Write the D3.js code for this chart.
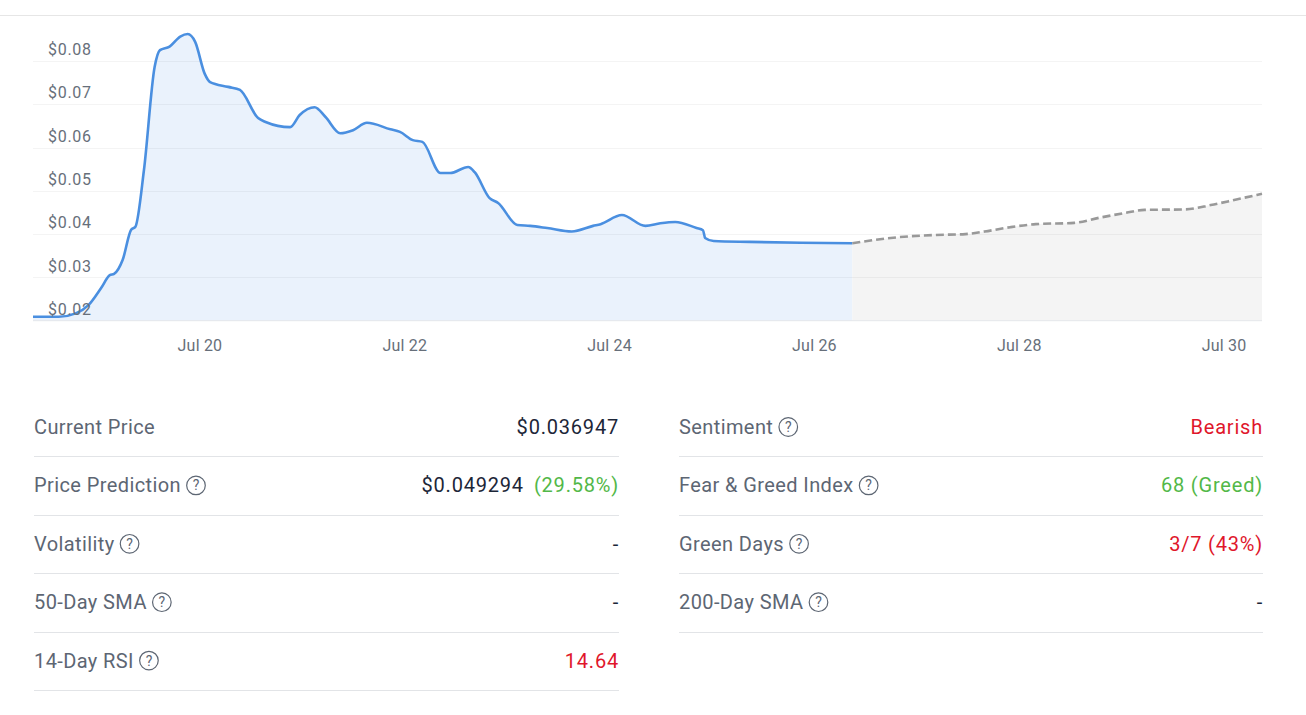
<!DOCTYPE html>
<html>
<head>
<meta charset="utf-8">
<script src="https://cdn.jsdelivr.net/npm/d3@7"></script>
<style>
  html, body { margin: 0; padding: 0; background: #fff; }
  svg { display: block; font-family: Roboto, "Noto Sans", sans-serif; }
</style>
</head>
<body>
<div id="chart"></div>
<script>
// price history
var priceDates = [
  "2023-07-18 09:00","2023-07-18 15:00","2023-07-18 19:00","2023-07-18 22:00","2023-07-19 01:00",
  "2023-07-19 03:00","2023-07-19 04:00","2023-07-19 06:00","2023-07-19 08:00","2023-07-19 09:00",
  "2023-07-19 11:00","2023-07-19 13:30","2023-07-19 14:45","2023-07-19 17:00","2023-07-19 19:30",
  "2023-07-19 21:15","2023-07-19 23:00","2023-07-20 01:15","2023-07-20 02:30","2023-07-20 06:45",
  "2023-07-20 09:30","2023-07-20 13:45","2023-07-20 15:30","2023-07-20 21:15","2023-07-20 23:30",
  "2023-07-21 03:00","2023-07-21 05:30","2023-07-21 09:00","2023-07-21 12:00","2023-07-21 15:15",
  "2023-07-21 20:45","2023-07-21 23:00","2023-07-22 02:00","2023-07-22 04:15","2023-07-22 08:30",
  "2023-07-22 10:45","2023-07-22 15:00","2023-07-22 16:30","2023-07-22 20:00","2023-07-22 22:00",
  "2023-07-23 02:30","2023-07-23 05:30","2023-07-23 09:30","2023-07-23 15:15","2023-07-23 20:15",
  "2023-07-23 22:00","2023-07-24 03:00","2023-07-24 08:30","2023-07-24 12:00","2023-07-24 15:30",
  "2023-07-24 20:30","2023-07-24 22:00","2023-07-24 22:30","2023-07-25 00:30","2023-07-25 09:00",
  "2023-07-25 21:00","2023-07-26 09:00"
];
var priceValues = [
  0.0209,0.0209,0.0217,0.0236,0.0276,
  0.0305,0.0308,0.0340,0.0410,0.0417,
  0.0548,0.0786,0.0825,0.0833,0.0856,
  0.0862,0.0844,0.0770,0.0751,0.0740,
  0.0733,0.0668,0.0659,0.0647,0.0675,
  0.0693,0.0671,0.0633,0.0640,0.0657,
  0.0642,0.0636,0.0617,0.0613,0.0541,
  0.0541,0.0555,0.0543,0.0483,0.0472,
  0.0421,0.0419,0.0414,0.0406,0.0419,
  0.0423,0.0444,0.0419,0.0425,0.0428,
  0.0414,0.0409,0.0391,0.0384,0.0382,
  0.0380,0.0379
];

// forecast
var forecastDates = [
  "2023-07-26 09:00","2023-07-26 20:00","2023-07-27 04:30","2023-07-27 11:30","2023-07-27 16:00",
  "2023-07-27 22:00","2023-07-28 04:00","2023-07-28 13:00","2023-07-28 19:00","2023-07-29 01:00",
  "2023-07-29 05:30","2023-07-29 15:00","2023-07-29 21:00","2023-07-30 03:00","2023-07-30 09:00"
];
var forecastValues = [
  0.0379,0.0393,0.0398,0.0400,0.0406,
  0.0416,0.0423,0.0426,0.0438,0.0449,
  0.0456,0.0457,0.0467,0.0480,0.0493
];

var yTicks = [0.02, 0.03, 0.04, 0.05, 0.06, 0.07, 0.08];
var xTicks = ["2023-07-20","2023-07-22","2023-07-24","2023-07-26","2023-07-28","2023-07-30"];

// stats table
var leftLabels = ["Current Price", "Price Prediction", "Volatility", "50-Day SMA", "14-Day RSI"];
var leftHelp = [false, true, true, true, true];
var leftValues = [
  [["$0.036947", "#1c2638"]],
  [["$0.049294", "#1c2638"], ["(29.58%)", "#52b848"]],
  [["-", "#1c2638"]],
  [["-", "#1c2638"]],
  [["14.64", "#e0162b"]]
];
var rightLabels = ["Sentiment", "Fear & Greed Index", "Green Days", "200-Day SMA"];
var rightHelp = [true, true, true, true];
var rightValues = [
  [["Bearish", "#e0162b"]],
  [["68 (Greed)", "#52b848"]],
  [["3/7 (43%)", "#e0162b"]],
  [["-", "#1c2638"]]
];

var W = 1306, H = 715;
var parseTime = d3.timeParse("%Y-%m-%d %H:%M");
var parseDay = d3.timeParse("%Y-%m-%d");

var pastData = priceDates.map(function(d, i) { return { t: parseTime(d), v: priceValues[i] }; });
var futureData = forecastDates.map(function(d, i) { return { t: parseTime(d), v: forecastValues[i] }; });

var svg = d3.select('#chart').append('svg')
    .attr('width', W)
    .attr('height', H);

// thin rule at top of the card
svg.append('line')
    .attr('x1', 0).attr('x2', W)
    .attr('y1', 15.5).attr('y2', 15.5)
    .attr('stroke', '#e6e6e6');

var x = d3.scaleTime()
    .domain([parseTime("2023-07-18 09:00"), parseTime("2023-07-30 09:00")])
    .range([33, 1262]);

var y = d3.scaleLinear()
    .domain([0.02, 0.08])
    .range([320.7, 60.9]);

var area = d3.area()
    .x(function(d) { return x(d.t); })
    .y0(y(0.02))
    .y1(function(d) { return y(d.v); })
    .curve(d3.curveMonotoneX);

var line = d3.line()
    .x(function(d) { return x(d.t); })
    .y(function(d) { return y(d.v); })
    .curve(d3.curveMonotoneX);

svg.append('path')
    .attr('d', area(pastData))
    .attr('fill', '#eaf2fc');

svg.append('path')
    .attr('d', area(futureData))
    .attr('fill', '#f4f4f4');

// gridlines
svg.append('g').selectAll('line')
    .data(yTicks.slice(1))
    .enter()
    .append('line')
    .attr('x1', 33).attr('x2', 1262)
    .attr('y1', function(d) { return Math.round(y(d)) + 0.5; })
    .attr('y2', function(d) { return Math.round(y(d)) + 0.5; })
    .attr('stroke', 'rgba(0,0,0,0.045)');

svg.append('line')
    .attr('x1', 33).attr('x2', 1262)
    .attr('y1', y(0.02)).attr('y2', y(0.02))
    .attr('stroke', '#e4e7eb');

svg.append('path')
    .attr('d', line(pastData))
    .attr('fill', 'none')
    .attr('stroke', '#4a8fe0')
    .attr('stroke-width', 2.6)
    .attr('stroke-linejoin', 'round');

svg.append('path')
    .attr('d', line(futureData))
    .attr('fill', 'none')
    .attr('stroke', '#999')
    .attr('stroke-width', 2.6)
    .attr('stroke-dasharray', '8,4');

// y labels sit inside the plot, just above each gridline
var yAxis = svg.append('g')
    .attr('transform', 'translate(48,0)')
    .call(d3.axisRight(y).tickValues(yTicks).tickSize(0).tickPadding(0)
        .tickFormat(function(d) { return '$' + d3.format('.2f')(d); }));
yAxis.select('.domain').remove();
yAxis.selectAll('text')
    .attr('dy', '-0.4em')
    .attr('fill', '#676f7a')
    .style('font-size', '16px')
    .style('letter-spacing', '0.7px')
    .style('font-family', 'Roboto, sans-serif');

var xAxis = svg.append('g')
    .attr('transform', 'translate(0,' + y(0.02) + ')')
    .call(d3.axisBottom(x).tickValues(xTicks.map(parseDay)).tickSize(0).tickPadding(19)
        .tickFormat(d3.timeFormat('%b %d')));
xAxis.select('.domain').remove();
xAxis.selectAll('text')
    .attr('fill', '#676f7a')
    .style('font-size', '16px')
    .style('letter-spacing', '0.2px')
    .style('font-family', 'Roboto, sans-serif');

// stats table
function drawColumn(x0, x1, labels, help, values) {
    var rowY = d3.scaleLinear().domain([0, 1]).range([427, 485.4]);
    var g = svg.append('g');
    labels.forEach(function(lab, i) {
        var cy = rowY(i);
        var t = g.append('text')
            .attr('x', x0)
            .attr('y', cy)
            .attr('dy', '0.35em')
            .attr('fill', '#5d6673')
            .style('font-size', '20px')
            .style('letter-spacing', '0.4px')
            .text(lab);
        if (help[i]) {
            var w = t.node().getComputedTextLength();
            var cx = x0 + w + 15;
            g.append('circle')
                .attr('cx', cx).attr('cy', cy)
                .attr('r', 9.3)
                .attr('fill', 'none')
                .attr('stroke', '#5d6673')
                .attr('stroke-width', 1.2);
            g.append('text')
                .attr('x', cx).attr('y', cy)
                .attr('dy', '0.36em')
                .attr('text-anchor', 'middle')
                .attr('fill', '#5d6673')
                .style('font-size', '14px')
                .text('?');
        }
        var v = g.append('text')
            .attr('x', x1)
            .attr('y', cy)
            .attr('dy', '0.35em')
            .attr('text-anchor', 'end')
            .style('font-size', '20px')
            .style('letter-spacing', '0.8px');
        values[i].forEach(function(part, j) {
            v.append('tspan')
                .attr('fill', part[1])
                .attr('dx', j > 0 ? 10 : 0)
                .text(part[0]);
        });
        g.append('line')
            .attr('x1', x0).attr('x2', x1)
            .attr('y1', Math.round(cy + 29.4) + 0.5)
            .attr('y2', Math.round(cy + 29.4) + 0.5)
            .attr('stroke', '#e2e4e7');
    });
}

drawColumn(34, 619, leftLabels, leftHelp, leftValues);
drawColumn(679, 1263, rightLabels, rightHelp, rightValues);
</script>
</body>
</html>
